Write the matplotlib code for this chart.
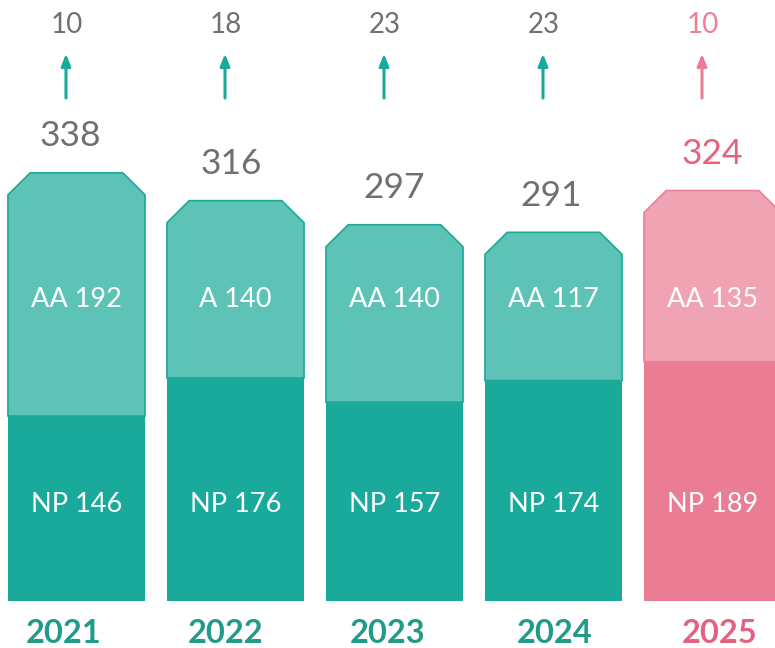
import matplotlib
matplotlib.use("Agg")
import matplotlib.pyplot as plt
from matplotlib.patches import Polygon, Rectangle

years = ["2021", "2022", "2023", "2024", "2025"]
np_vals = [146, 176, 157, 174, 189]
aa_vals = [192, 140, 140, 117, 135]
aa_labels = ["AA 192", "A 140", "AA 140", "AA 117", "AA 135"]
np_labels = ["NP 146", "NP 176", "NP 157", "NP 174", "NP 189"]
totals = [338, 316, 297, 291, 324]
increments = [10, 18, 23, 23, 10]

# label horizontal nudges (layout only)
year_dx = [-0.082, -0.060, -0.041, 0.006, 0.044]
total_dx = [-0.04, -0.03, 0.0, -0.015, 0.0]

plt.rcParams['font.family'] = ['Lato', 'DejaVu Sans']

TEAL_DARK = "#1aaa9b"
TEAL_LIGHT = "#5dc3b7"
TEAL_EDGE = "#1ea896"
PINK_DARK = "#ea7d94"
PINK_LIGHT = "#f0a4b3"
PINK_EDGE = "#ec8096"
GRAY = "#707070"

fig = plt.figure(figsize=(7.75, 6.48), dpi=100)
ax = fig.add_axes([0, 0, 1, 1])
ax.set_xlim(-0.481, 4.393)
ax.set_ylim(-37.1, 474.4)
ax.axis("off")

w = 0.862
cx = 0.14    # chamfer horizontal
cy = 17.4    # chamfer vertical

for i, (yr, n, a, tot, inc) in enumerate(zip(years, np_vals, aa_vals, totals, increments)):
    last = (i == len(years) - 1)
    dark = PINK_DARK if last else TEAL_DARK
    light = PINK_LIGHT if last else TEAL_LIGHT
    edge = PINK_EDGE if last else TEAL_EDGE
    left, right = i - w / 2, i + w / 2
    ax.add_patch(Rectangle((left, 0), w, n, facecolor=dark, edgecolor="none"))
    top = n + a
    poly = Polygon([(left, n), (left, top - cy), (left + cx, top), (right - cx, top),
                    (right, top - cy), (right, n)], closed=True,
                   facecolor=light, edgecolor=edge, linewidth=1.2, joinstyle="miter")
    ax.add_patch(poly)
    ax.text(i, 238, aa_labels[i], ha="center", va="center", fontsize=19.5, color="white")
    ax.text(i, 76, np_labels[i], ha="center", va="center", fontsize=19.5, color="white")
    ax.text(i + total_dx[i], top + 29, str(tot), ha="center", va="center", fontsize=25.5,
            color=("#e8607e" if last else GRAY))
    ax.text(i - 0.06, 455, str(inc), ha="center", va="center", fontsize=20,
            color=("#ef7f93" if last else GRAY))
    ax.annotate("", xy=(i - 0.066, 432), xytext=(i - 0.066, 397),
                arrowprops=dict(arrowstyle="-|>,head_length=0.7,head_width=0.28",
                                color=(PINK_DARK if last else TEAL_DARK), lw=2.2,
                                shrinkA=0, shrinkB=0))
    ax.text(i + year_dx[i], -26, yr, ha="center", va="center", fontsize=23.5, fontweight="bold",
            color=("#e2627f" if last else "#1f9b87"))

fig.savefig("out.png", dpi=100)
